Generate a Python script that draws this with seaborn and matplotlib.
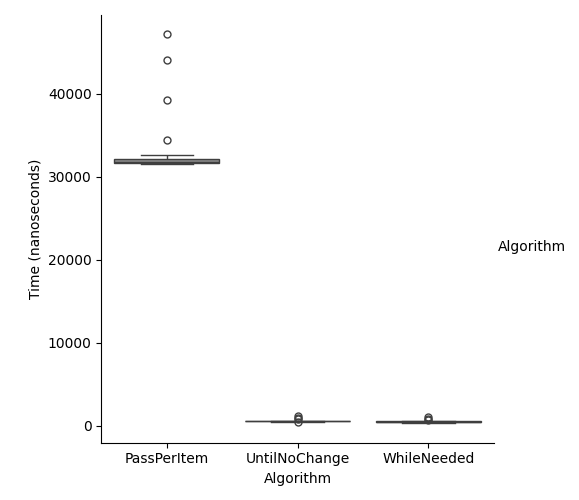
import matplotlib
matplotlib.use("Agg")
import seaborn as sns
import pandas as pd
import matplotlib.pyplot as plt

algorithms = ["PassPerItem", "UntilNoChange", "WhileNeeded"]
pass_per_item = [31550, 31600, 31620, 31650, 31680, 31700, 31700, 31720, 31750, 31760, 31780, 31800,
                 31820, 31850, 31900, 31950, 32000, 32050, 32100, 32200, 32400, 32600, 34400, 39300, 44100, 47200]
until_no_change = [520, 540, 550, 560, 560, 570, 580, 590, 600, 610, 620, 640, 450, 800, 1000, 1250]
while_needed = [440, 450, 460, 470, 480, 480, 490, 500, 510, 520, 530, 540, 380, 700, 850, 1050]

df = pd.DataFrame({
    "Algorithm": [algorithms[0]] * len(pass_per_item) + [algorithms[1]] * len(until_no_change) + [algorithms[2]] * len(while_needed),
    "Time (nanoseconds)": pass_per_item + until_no_change + while_needed,
})

g = sns.catplot(data=df, x="Algorithm", y="Time (nanoseconds)", kind="box",
                color="#8a8a8a", linecolor="#3f3f3f", height=5, aspect=0.85, order=algorithms)
g.figure.set_size_inches(5.79, 5.0)
g.figure.subplots_adjust(left=0.175, right=0.853, bottom=0.115, top=0.97)
g.figure.text(0.86, 0.507, "Algorithm", fontsize=10, va="center")
g.ax.set_ylim(-2000, 49500)
g.figure.savefig("out.png", dpi=100)
